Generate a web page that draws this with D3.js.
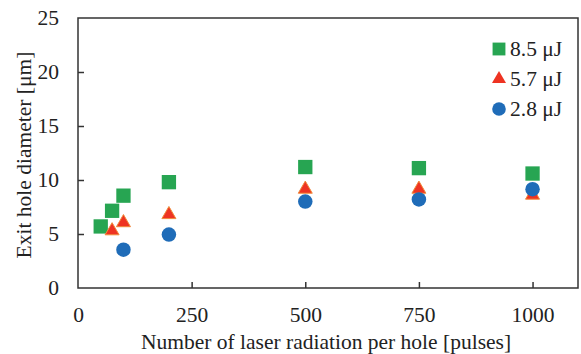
<!DOCTYPE html>
<html>
<head>
<meta charset="utf-8">
<script src="https://cdn.jsdelivr.net/npm/d3@7"></script>
<style>
  body { margin: 0; background: #fff; }
  svg text { font-family: "Times New Roman", "Liberation Serif", serif !important; fill: #222; }
</style>
</head>
<body>
<div id="chart"></div>
<script>
// data
var pulses85 = [50, 75, 100, 200, 500, 750, 1000],
    diam85   = [5.7, 7.15, 8.55, 9.8, 11.2, 11.1, 10.6];
var pulses57 = [75, 100, 200, 500, 750, 1000],
    diam57   = [5.3, 6.05, 6.8, 9.15, 9.15, 8.6];
var pulses28 = [100, 200, 500, 750, 1000],
    diam28   = [3.55, 4.95, 8.0, 8.2, 9.15];
var xTicks = [0, 250, 500, 750, 1000],
    yTicks = [0, 5, 10, 15, 20, 25];
var seriesNames = ["8.5 \u03bcJ", "5.7 \u03bcJ", "2.8 \u03bcJ"];

var W = 581, H = 354;
var margin = {top: 18, right: 3, bottom: 66, left: 78},
    width = W - margin.left - margin.right,
    height = H - margin.top - margin.bottom;
var fs = 21.5;

var svg = d3.select("#chart")
    .append("svg")
    .attr("width", W)
    .attr("height", H)
    .append("g")
    .attr("transform", "translate(" + margin.left + "," + margin.top + ")");

var x = d3.scaleLinear().domain([0, 1100]).range([0, width]);
var y = d3.scaleLinear().domain([0, 25]).range([height, 0]);

// frame
svg.append("rect")
    .attr("width", width).attr("height", height)
    .attr("fill", "none").attr("stroke", "#333").attr("stroke-width", 1.5);

// X axis, ticks pointing inward
var xAxis = svg.append("g")
    .attr("transform", "translate(0," + height + ")")
    .call(d3.axisBottom(x).tickValues(xTicks).tickFormat(d3.format("d"))
        .tickSizeInner(-6).tickSizeOuter(0).tickPadding(19));
xAxis.select(".domain").remove();
xAxis.selectAll(".tick line").attr("stroke", "#333").attr("stroke-width", 1.5)
    .filter(function(d) { return d === 0; }).remove();
xAxis.selectAll("text").attr("font-size", fs);

// Y axis
var yAxis = svg.append("g")
    .call(d3.axisLeft(y).tickValues(yTicks).tickSizeInner(-6).tickSizeOuter(0).tickPadding(19));
yAxis.select(".domain").remove();
yAxis.selectAll(".tick line").attr("stroke", "#333").attr("stroke-width", 1.5)
    .filter(function(d) { return d === 0 || d === 25; }).remove();
yAxis.selectAll("text").attr("font-size", fs);

// axis titles
svg.append("text")
    .attr("x", width / 2 - 2).attr("y", height + 61)
    .attr("text-anchor", "middle").attr("font-size", fs)
    .text("Number of laser radiation per hole [pulses]");
svg.append("text")
    .attr("transform", "translate(-47," + (height / 2 + 2) + ") rotate(-90)")
    .attr("text-anchor", "middle").attr("font-size", fs)
    .text("Exit hole diameter [\u03bcm]");

var green = "#27a552", red = "#ee3322", blue = "#1f6cb8";
var sq = d3.symbol().type(d3.symbolSquare).size(205),
    tri = d3.symbol().type(d3.symbolTriangle).size(85),
    circ = d3.symbol().type(d3.symbolCircle).size(165);

// squares
svg.selectAll(".s85").data(pulses85).enter().append("path")
    .attr("d", sq)
    .attr("transform", function(d, i) { return "translate(" + x(d) + "," + y(diam85[i]) + ")"; })
    .attr("fill", green);
// triangles
svg.selectAll(".s57").data(pulses57).enter().append("path")
    .attr("d", tri)
    .attr("transform", function(d, i) { return "translate(" + x(d) + "," + y(diam57[i]) + ")"; })
    .attr("fill", red).attr("stroke", "#f08a3a").attr("stroke-width", 1);
// circles
svg.selectAll(".s28").data(pulses28).enter().append("path")
    .attr("d", circ)
    .attr("transform", function(d, i) { return "translate(" + x(d) + "," + y(diam28[i]) + ")"; })
    .attr("fill", blue);

// legend
var legend = svg.append("g").attr("transform", "translate(" + (width - 79) + ",31)");
var syms = [
  {p: d3.symbol().type(d3.symbolSquare).size(165)(), c: green},
  {p: d3.symbol().type(d3.symbolTriangle).size(85)(), c: red},
  {p: d3.symbol().type(d3.symbolCircle).size(145)(), c: blue}
];
seriesNames.forEach(function(name, i) {
  var row = legend.append("g").attr("transform", "translate(0," + (i * 30) + ")");
  row.append("path").attr("d", syms[i].p).attr("fill", syms[i].c);
  row.append("text").attr("x", 11).attr("y", 7).attr("font-size", fs).text(name);
});
</script>
</body>
</html>
